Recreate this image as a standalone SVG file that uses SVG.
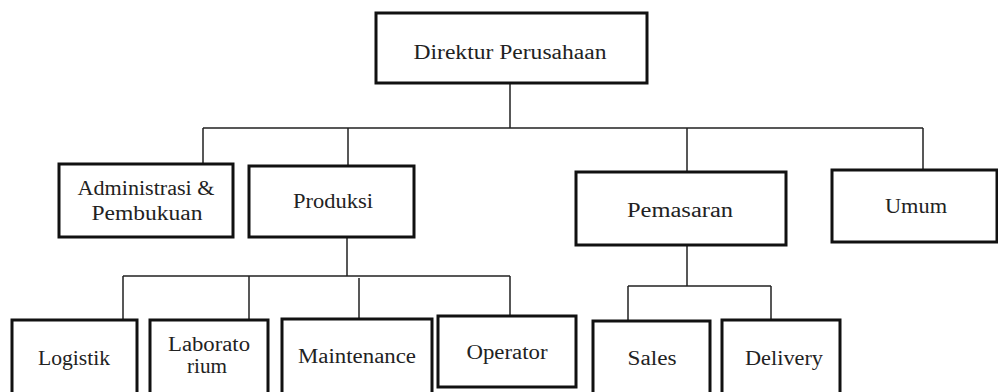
<svg xmlns="http://www.w3.org/2000/svg" width="998" height="392" viewBox="0 0 998 392">
<style>
.box{fill:#fff;stroke:#111;stroke-width:3}
.lbl{font-size:20px;fill:#222;text-anchor:middle}
.con{stroke:#222;stroke-width:1.5;fill:none}
</style>
<rect width="998" height="392" fill="#fff"/>
<g id="connectors">
<path class="con" d="M510 83V128M203 128H923M203 128V164M348 128V166M687 128V172M923 128V170"/>
<path class="con" d="M347 237V276M123 276H510M123 276V320M249 276V320M359 278V319M510 276V316"/>
<path class="con" d="M687 245V286M628 286H771M628 286V321M771 286V320"/>
</g>
<g font-family="Liberation Serif, Tinos, Times New Roman, Times, Noto Serif, DejaVu Serif, Georgia, serif">
<g id="direktur"><rect class="box" x="376" y="13" width="271" height="70"/><text class="lbl" x="510" y="59" textLength="193" lengthAdjust="spacingAndGlyphs">Direktur Perusahaan</text></g>
<g id="administrasi"><rect class="box" x="59" y="164" width="174" height="73"/><text class="lbl" x="146" y="195" textLength="137" lengthAdjust="spacingAndGlyphs">Administrasi &amp;</text><text class="lbl" x="147" y="220" textLength="111" lengthAdjust="spacingAndGlyphs">Pembukuan</text></g>
<g id="produksi"><rect class="box" x="249" y="166" width="165" height="71"/><text class="lbl" x="333" y="208" textLength="80" lengthAdjust="spacingAndGlyphs">Produksi</text></g>
<g id="pemasaran"><rect class="box" x="576" y="172" width="210" height="73"/><text class="lbl" x="680" y="217" textLength="106" lengthAdjust="spacingAndGlyphs">Pemasaran</text></g>
<g id="umum"><rect class="box" x="832" y="170" width="165" height="72"/><text class="lbl" x="916" y="213" textLength="62" lengthAdjust="spacingAndGlyphs">Umum</text></g>
<g id="logistik"><rect class="box" x="12" y="320" width="125" height="80"/><text class="lbl" x="74" y="365" textLength="72" lengthAdjust="spacingAndGlyphs">Logistik</text></g>
<g id="laboratorium"><rect class="box" x="150" y="320" width="118" height="80"/><text class="lbl" x="209" y="351" textLength="82" lengthAdjust="spacingAndGlyphs">Laborato</text><text class="lbl" x="207" y="373" textLength="40" lengthAdjust="spacingAndGlyphs">rium</text></g>
<g id="maintenance"><rect class="box" x="282" y="319" width="150" height="81"/><text class="lbl" x="357" y="363" textLength="118" lengthAdjust="spacingAndGlyphs">Maintenance</text></g>
<g id="operator"><rect class="box" x="438" y="316" width="138" height="71"/><text class="lbl" x="507" y="359" textLength="81" lengthAdjust="spacingAndGlyphs">Operator</text></g>
<g id="sales"><rect class="box" x="593" y="321" width="117" height="79"/><text class="lbl" x="652" y="365" textLength="49" lengthAdjust="spacingAndGlyphs">Sales</text></g>
<g id="delivery"><rect class="box" x="722" y="320" width="118" height="80"/><text class="lbl" x="784" y="365" textLength="78" lengthAdjust="spacingAndGlyphs">Delivery</text></g>
</g>
</svg>
